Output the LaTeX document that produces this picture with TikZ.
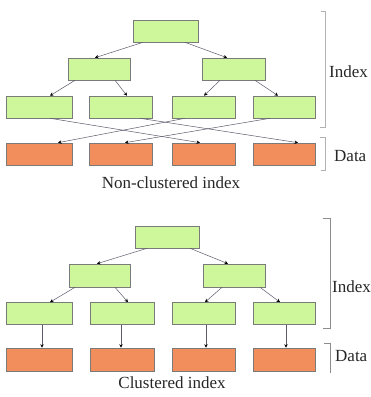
\documentclass[tikz,border=0pt]{standalone}
\usepackage{fontspec}
\setmainfont{Liberation Serif}
\usetikzlibrary{arrows.meta}
\definecolor{gfill}{HTML}{CDF79A}
\definecolor{ofill}{HTML}{F28E5B}
\definecolor{bord}{HTML}{7A7A7A}
\definecolor{lnc}{HTML}{5A5A6A}
\tikzset{
  gbox/.style={draw=bord, fill=gfill, line width=0.6pt, minimum height=22pt, inner sep=0pt},
  obox/.style={draw=bord, fill=ofill, line width=0.6pt, minimum height=22pt, inner sep=0pt},
  arr/.style={draw=lnc, line width=0.5pt, -{Stealth[length=3.5pt,width=3.5pt,black]}},
  lbl/.style={font=\fontsize{17}{20}\selectfont, inner sep=0pt, text=black!85},
  brk/.style={draw=black!45, line width=0.7pt},
}
\begin{document}
\begin{tikzpicture}[x=1pt,y=-1pt]
\useasboundingbox (0,0) rectangle (371,397);
% ---------- Non-clustered ----------
\node[gbox, minimum width=65pt] (r1) at (165.5,31) {};
\node[gbox, minimum width=62pt] (a1) at (99,69) {};
\node[gbox, minimum width=63pt] (a2) at (233.5,69) {};
\node[gbox, minimum width=66pt] (l1) at (39,107) {};
\node[gbox, minimum width=63pt] (l2) at (120.5,107) {};
\node[gbox, minimum width=63pt] (l3) at (203.5,107) {};
\node[gbox, minimum width=62pt] (l4) at (284,107) {};
\node[obox, minimum width=66pt] (d1) at (39,154) {};
\node[obox, minimum width=63pt] (d2) at (120.5,154) {};
\node[obox, minimum width=63pt] (d3) at (203.5,154) {};
\node[obox, minimum width=62pt] (d4) at (284,154) {};
\draw[arr] ([xshift=-22.5pt]r1.south) -- ([xshift=-4pt]a1.north);
\draw[arr] ([xshift=19.5pt]r1.south) -- ([xshift=-6.5pt]a2.north);
\draw[arr] ([xshift=-24pt]a1.south) -- ([xshift=11pt]l1.north);
\draw[arr] ([xshift=16pt]a1.south) -- ([xshift=6.5pt]l2.north);
\draw[arr] ([xshift=-13.5pt]a2.south) -- ([xshift=0.5pt]l3.north);
\draw[arr] ([xshift=21.5pt]a2.south) -- ([xshift=-6pt]l4.north);
\draw[arr] ([xshift=11pt]l1.south) -- ([xshift=-3.5pt]d3.north);
\draw[arr] ([xshift=19.5pt]l2.south) -- ([xshift=14pt]d4.north);
\draw[arr] ([xshift=-18.5pt]l3.south) -- ([xshift=19pt]d1.north);
\draw[arr] ([xshift=-14pt]l4.south) -- ([xshift=4.5pt]d2.north);
\node[lbl] (t1) at (171,183) {Non-clustered index};
\draw[brk, black!30] (321,11) -- (325,11) -- (325,127) -- (320,127);
\draw[brk, black!30] (320,137) -- (325,137) -- (325,170) -- (321,170);
\node[lbl, anchor=west] (i1) at (329,72) {Index};
\node[lbl, anchor=west] (dt1) at (334,156) {Data};
% ---------- Clustered ----------
\node[gbox, minimum width=64pt] (r2) at (167,237) {};
\node[gbox, minimum width=61pt, minimum height=23pt] (b1) at (99.5,275.5) {};
\node[gbox, minimum width=62pt, minimum height=23pt] (b2) at (234,275.5) {};
\node[gbox, minimum width=66pt] (m1) at (39,313.5) {};
\node[gbox, minimum width=64pt] (m2) at (122,313.5) {};
\node[gbox, minimum width=63pt] (m3) at (203.5,313.5) {};
\node[gbox, minimum width=62pt] (m4) at (284,313.5) {};
\node[obox, minimum width=66pt, minimum height=23pt] (e1) at (39,359.5) {};
\node[obox, minimum width=64pt, minimum height=23pt] (e2) at (122,359.5) {};
\node[obox, minimum width=63pt, minimum height=23pt] (e3) at (203.5,359.5) {};
\node[obox, minimum width=62pt, minimum height=23pt] (e4) at (284,359.5) {};
\draw[arr] ([xshift=-20pt]r2.south) -- ([xshift=-2.5pt]b1.north);
\draw[arr] ([xshift=23pt]r2.south) -- ([xshift=-6pt]b2.north);
\draw[arr] ([xshift=-24.5pt]b1.south) -- ([xshift=11pt]m1.north);
\draw[arr] ([xshift=15.5pt]b1.south) -- ([xshift=6pt]m2.north);
\draw[arr] ([xshift=-12pt]b2.south) -- ([xshift=1.5pt]m3.north);
\draw[arr] ([xshift=26pt]b2.south) -- ([xshift=-4pt]m4.north);
\draw[arr] ([xshift=3pt]m1.south) -- ([xshift=3pt]e1.north);
\draw[arr] ([xshift=-1pt]m2.south) -- ([xshift=-1pt]e2.north);
\draw[arr] ([xshift=2.5pt]m3.south) -- ([xshift=2.5pt]e3.north);
\draw[arr] ([xshift=2pt]m4.south) -- ([xshift=2pt]e4.north);
\node[lbl] (t2) at (172,383) {Clustered index};
\draw[brk] (323,218) -- (330,218) -- (330,328) -- (323,328);
\draw[brk] (324,343) -- (330,343) -- (330,373);
\node[lbl, anchor=west] (i2) at (332,287) {Index};
\node[lbl, anchor=west] (dt2) at (335,356) {Data};
\end{tikzpicture}
\end{document}
